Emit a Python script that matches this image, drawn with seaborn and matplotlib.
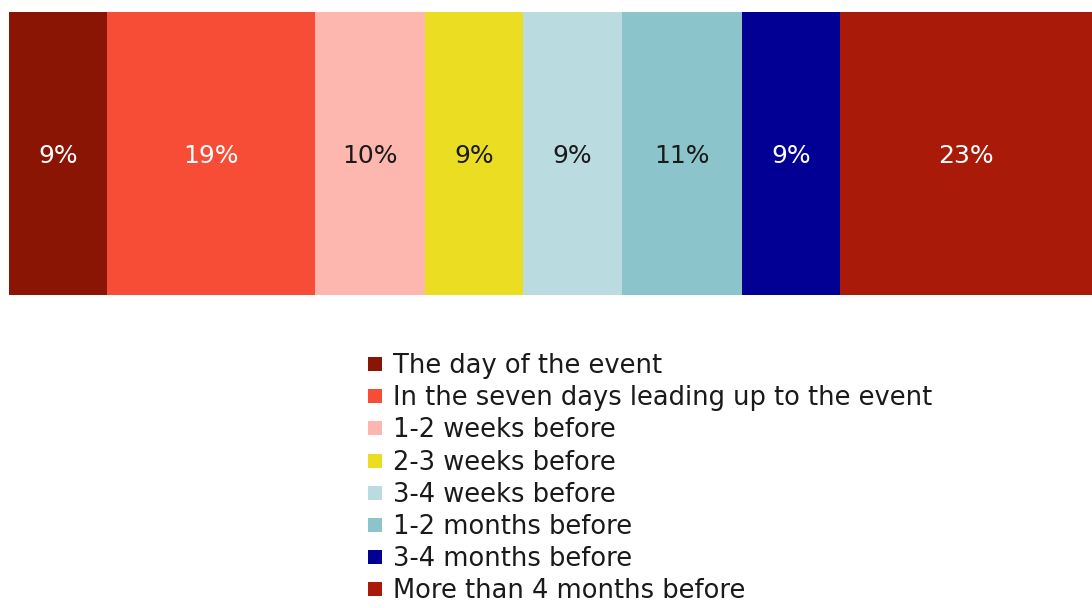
import matplotlib
matplotlib.use("Agg")
import matplotlib.pyplot as plt
from matplotlib.lines import Line2D
import seaborn as sns
import pandas as pd
import numpy as np

categories = [
    "The day of the event",
    "In the seven days leading up to the event",
    "1-2 weeks before",
    "2-3 weeks before",
    "3-4 weeks before",
    "1-2 months before",
    "3-4 months before",
    "More than 4 months before",
]
values = [9, 19, 10, 9, 9, 11, 9, 23]
colors = ["#8B1505", "#F74C35", "#FDB7AE", "#EBDD22", "#BADBDF", "#8CC4CC", "#020094", "#AA1A08"]
label_colors = ["white", "white", "#1a1a1a", "#1a1a1a", "#1a1a1a", "#1a1a1a", "white", "white"]

sns.set_theme(style="white")
plt.rcParams["font.family"] = ["DejaVu Sans"]

fig = plt.figure(figsize=(10.92, 6.08), dpi=100)
ax = fig.add_axes([9 / 1092, 1 - 295 / 608, 1 - 9 / 1092, (295 - 12) / 608])

cum = np.cumsum(values)
df = pd.DataFrame({"row": [""] * len(values), "cum": cum, "cat": categories})

# stacked bar: draw cumulative totals from the largest down so each segment shows
for i in range(len(values) - 1, -1, -1):
    sns.barplot(data=df.iloc[[i]], x="cum", y="row", color=colors[i],
                orient="h", width=1.0, ax=ax, saturation=1, linewidth=0)

starts = cum - np.array(values)
for s, v, c in zip(starts, values, label_colors):
    ax.text(s + v / 2, 0.01, f"{v}%", ha="center", va="center", color=c,
            fontsize=18)

ax.set_xlim(0, cum[-1])
ax.set_ylim(0.5, -0.5)
ax.axis("off")

handles = [Line2D([0], [0], marker="s", linestyle="none", markersize=10,
                  markerfacecolor=c, markeredgewidth=0) for c in colors]
fig.legend(handles, categories, loc="upper left", bbox_to_anchor=(366 / 1092, 1 - 353 / 608),
           frameon=False, handlelength=0.7, handletextpad=0.35,
           labelspacing=0.24, borderpad=0, borderaxespad=0,
           labelcolor="#1a1a1a",
           prop={"family": ["DejaVu Sans"], "size": 18.5})

fig.savefig("out.png", dpi=100)
